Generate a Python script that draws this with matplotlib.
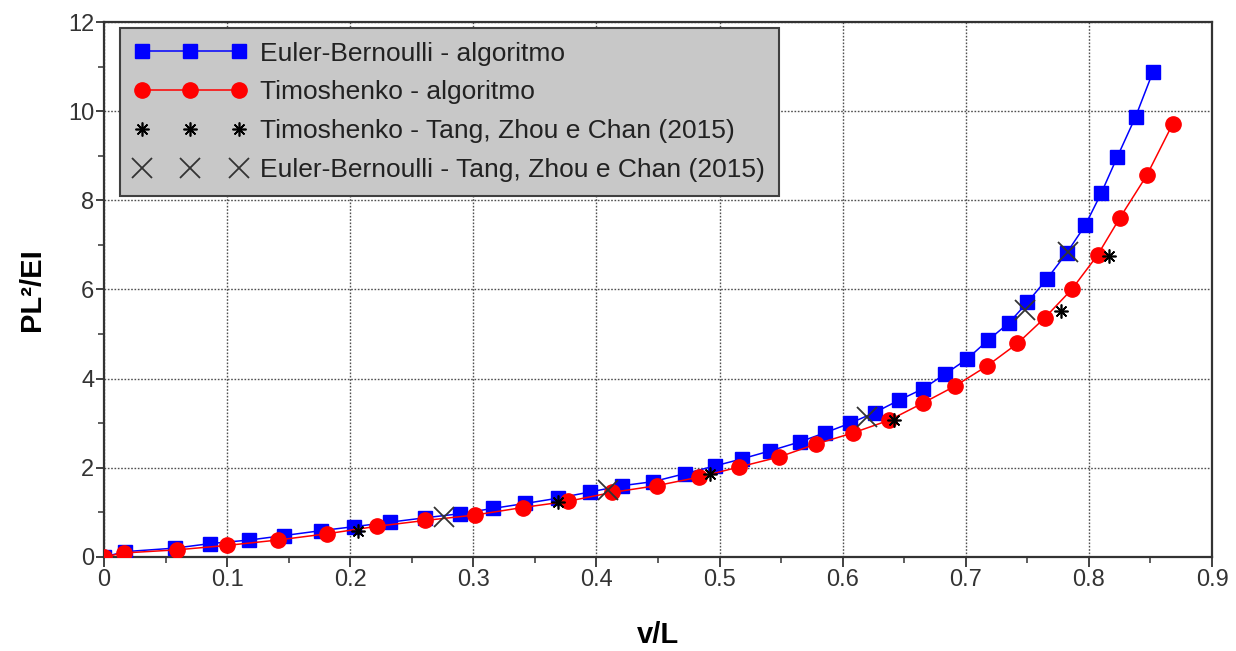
import matplotlib

matplotlib.use("Agg")
import matplotlib.pyplot as plt
from matplotlib.ticker import MultipleLocator

plt.rcParams["font.family"] = ["Liberation Sans", "DejaVu Sans"]

# Euler-Bernoulli - algoritmo
eb_x = [0.0, 0.017, 0.058, 0.086, 0.118, 0.146, 0.176, 0.203, 0.232, 0.261,
        0.289, 0.316, 0.342, 0.369, 0.395, 0.421, 0.446, 0.472, 0.496, 0.518,
        0.541, 0.565, 0.586, 0.606, 0.626, 0.646, 0.665, 0.683, 0.701, 0.718,
        0.735, 0.750, 0.766, 0.782, 0.797, 0.810, 0.823, 0.838, 0.852]
eb_y = [0.0, 0.12, 0.20, 0.30, 0.38, 0.48, 0.59, 0.68, 0.78, 0.88,
        0.97, 1.09, 1.20, 1.32, 1.46, 1.60, 1.69, 1.87, 2.04, 2.20,
        2.38, 2.58, 2.79, 3.00, 3.24, 3.52, 3.77, 4.10, 4.44, 4.86,
        5.25, 5.71, 6.24, 6.82, 7.44, 8.16, 8.97, 9.88, 10.88]

# Timoshenko - algoritmo
ti_x = [0.0, 0.016, 0.059, 0.100, 0.141, 0.181, 0.222, 0.261, 0.301, 0.340,
        0.377, 0.413, 0.449, 0.483, 0.516, 0.548, 0.578, 0.608, 0.638, 0.665,
        0.691, 0.717, 0.742, 0.764, 0.786, 0.807, 0.825, 0.847, 0.868]
ti_y = [0.0, 0.09, 0.16, 0.26, 0.38, 0.52, 0.69, 0.82, 0.94, 1.11,
        1.25, 1.45, 1.60, 1.79, 2.02, 2.24, 2.53, 2.78, 3.07, 3.45,
        3.83, 4.28, 4.79, 5.36, 6.00, 6.77, 7.60, 8.56, 9.71]

# Tang, Zhou e Chan (2015)
tang_ti_x = [0.206, 0.369, 0.492, 0.642, 0.777, 0.816]
tang_ti_y = [0.58, 1.23, 1.87, 3.07, 5.52, 6.76]
tang_eb_x = [0.276, 0.409, 0.620, 0.748, 0.783]
tang_eb_y = [0.90, 1.50, 3.13, 5.55, 6.84]

fig = plt.figure(figsize=(12.36, 6.51), dpi=100)
ax = fig.add_axes([0.0841, 0.1444, 0.8965, 0.8218])

ax.plot(eb_x, eb_y, color="blue", lw=1.1, marker="s", ms=9.5,
        mec="blue", mfc="blue", label="Euler-Bernoulli - algoritmo", zorder=3)
ax.plot(ti_x, ti_y, color="red", lw=1.1, marker="o", ms=11,
        mec="red", mfc="red", label="Timoshenko - algoritmo", zorder=4)
ax.plot(tang_ti_x, tang_ti_y, ls="none", marker=(8, 2, 0), ms=10, mew=1.2,
        color="black", label="Timoshenko - Tang, Zhou e Chan (2015)", zorder=5)
ax.plot(tang_eb_x, tang_eb_y, ls="none", marker="x", ms=15, mew=1.3,
        color="#333333", label="Euler-Bernoulli - Tang, Zhou e Chan (2015)", zorder=5)

ax.set_xlim(0, 0.9)
ax.set_ylim(0, 12)
ax.xaxis.set_major_locator(MultipleLocator(0.1))
ax.xaxis.set_minor_locator(MultipleLocator(0.05))
ax.yaxis.set_major_locator(MultipleLocator(2))
ax.yaxis.set_minor_locator(MultipleLocator(1))
ax.set_xticks([0, 0.1, 0.2, 0.3, 0.4, 0.5, 0.6, 0.7, 0.8, 0.9],
              ["0", "0.1", "0.2", "0.3", "0.4", "0.5", "0.6", "0.7", "0.8", "0.9"])

ax.grid(True, which="major", color="#505050", lw=1.0, ls=(0, (1.2, 1.2)))
ax.tick_params(which="major", direction="out", length=7, width=1.3,
               colors="#333333", labelsize=17, labelcolor="#333333")
ax.tick_params(which="minor", direction="out", length=4, width=1.1, colors="#333333")
ax.tick_params(axis="x", which="major", pad=2)
ax.tick_params(axis="y", which="major", length=6, pad=1)
ax.tick_params(top=False, right=False)
for s in ax.spines.values():
    s.set_color("#333333")
    s.set_linewidth(1.6)

ax.set_xlabel("v/L", fontsize=21, fontweight="bold")
ax.xaxis.set_label_coords(0.5, -0.12)
ax.set_ylabel("PL²/EI", fontsize=21, fontweight="bold")
ax.yaxis.set_label_coords(-0.052, 0.5)

leg = ax.legend(loc="upper left", bbox_to_anchor=(0.0144, 0.9888), borderaxespad=0,
                fontsize=19, numpoints=3, handlelength=4.3, handletextpad=0.5,
                labelspacing=0.56, borderpad=0.52, fancybox=False, framealpha=1,
                facecolor="#c8c8c8", edgecolor="#404040")
leg.get_frame().set_linewidth(1.5)
for t in leg.get_texts():
    t.set_color("#222222")

fig.savefig("out.png", dpi=100)
